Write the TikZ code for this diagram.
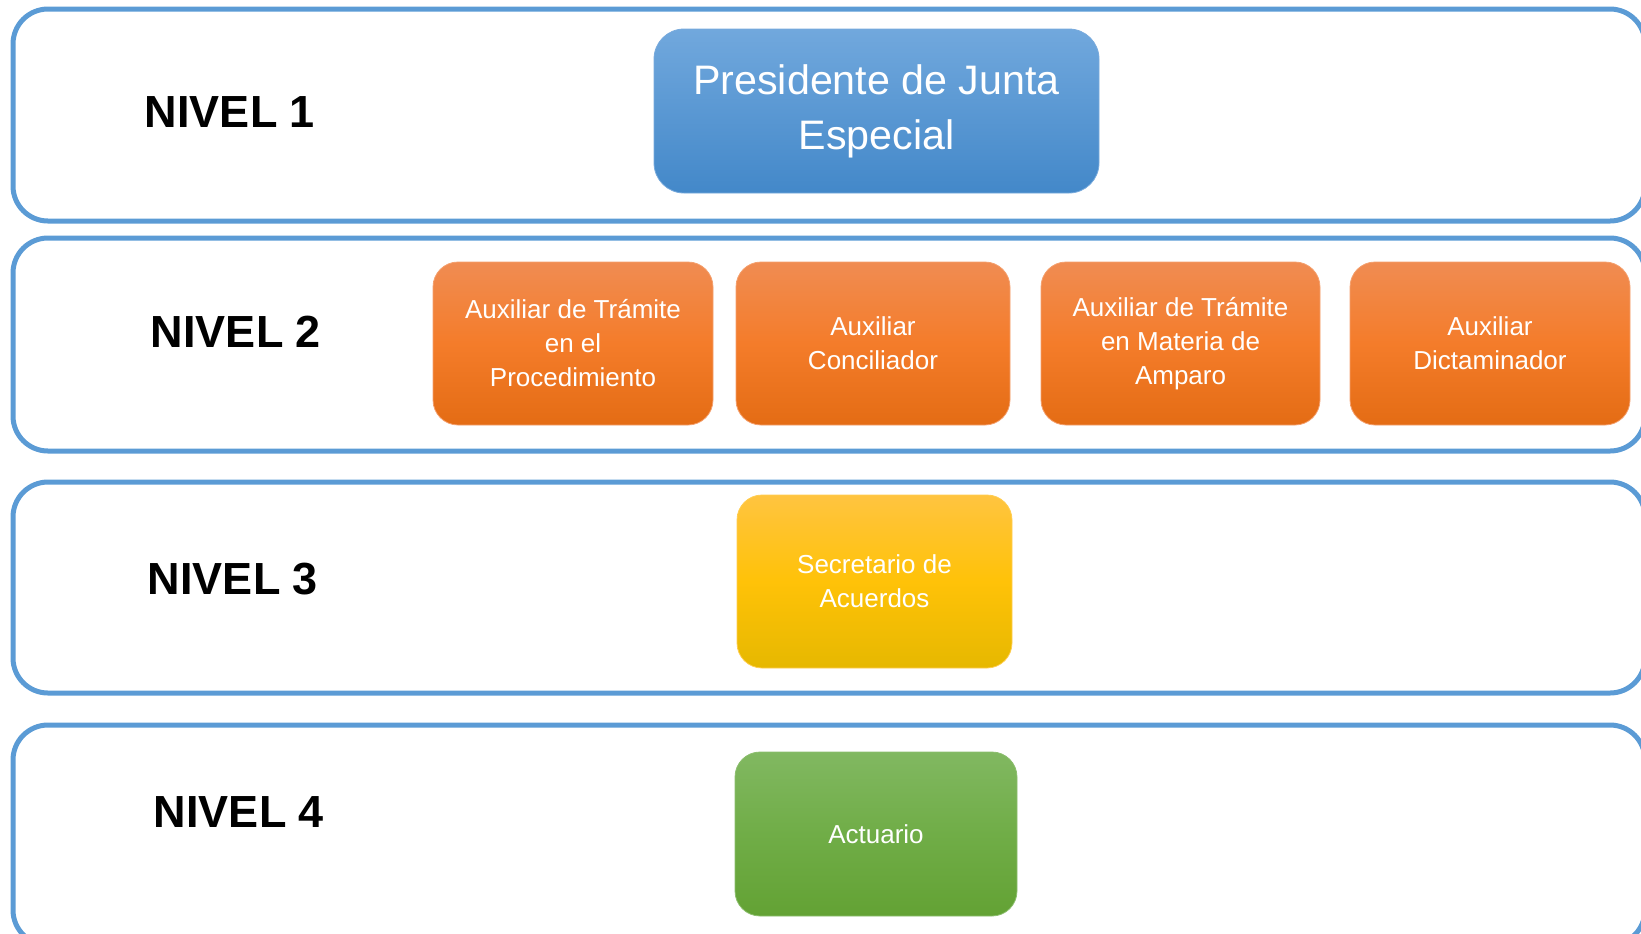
\documentclass[tikz,border=0pt]{standalone}
\usepackage{fontspec}
\setmainfont{Liberation Sans}
\definecolor{bandblue}{RGB}{91,155,213}
\tikzset{
	band/.style={draw=bandblue, line width=2.5pt, rounded corners=17.5pt},
	nivel/.style={font=\bfseries\fontsize{22.5}{27}\selectfont},
	cargo/.style={rounded corners=12.5pt, inner sep=0pt, text=white, align=center,
		minimum width=140pt, minimum height=81.5pt, font=\fontsize{13}{17}\selectfont},
	azul/.style={cargo, draw={rgb,255:red,120;green,170;blue,220}, line width=0.4pt,
		top color={rgb,255:red,113;green,168;blue,221}, bottom color={rgb,255:red,67;green,136;blue,201}},
	naranja/.style={cargo, draw={rgb,255:red,244;green,160;blue,110}, line width=0.4pt,
		top color={rgb,255:red,240;green,140;blue,82}, bottom color={rgb,255:red,228;green,108;blue,20},
		middle color={rgb,255:red,244;green,124;blue,42}},
	amarillo/.style={cargo, draw={rgb,255:red,255;green,205;blue,80}, line width=0.4pt,
		top color={rgb,255:red,255;green,196;blue,64}, bottom color={rgb,255:red,230;green,184;blue,0},
		middle color={rgb,255:red,255;green,194;blue,8}},
	verde/.style={cargo, draw={rgb,255:red,140;green,190;blue,110}, line width=0.4pt,
		top color={rgb,255:red,129;green,184;blue,97}, bottom color={rgb,255:red,99;green,162;blue,52},
		middle color={rgb,255:red,112;green,173;blue,71}}
}
\begin{document}
\begin{tikzpicture}[x=0.5pt, y=-0.5pt]
	\useasboundingbox (0,0) rectangle (1641,933);
	% franjas de nivel
	\draw[band] (13,9) rectangle (1645,221);
	\draw[band] (13,238) rectangle (1645,451);
	\draw[band] (13,482) rectangle (1645,693);
	\draw[band] (13,725) rectangle (1645,945);
	% etiquetas
	\node[nivel] (n1) at (230,112) {NIVEL 1};
	\node[nivel] (n2) at (236,332) {NIVEL 2};
	\node[nivel] (n3) at (233,579) {NIVEL 3};
	\node[nivel] (n4) at (239,812) {NIVEL 4};
	% cargos
	\node[azul, rounded corners=15pt, minimum width=222.5pt, minimum height=82pt,
		font=\fontsize{20.6}{27.5}\selectfont] (presidente) at (876.5,111) {Presidente de Junta\\Especial};
	\node[naranja] (tramite) at (573,343.5) {Auxiliar de Trámite\\en el\\Procedimiento};
	\node[naranja, minimum width=137pt] (conciliador) at (873,343.5) {Auxiliar\\Conciliador};
	\node[naranja, minimum width=139.5pt] (amparo) at (1180.5,343.5) {Auxiliar de Trámite\\en Materia de\\Amparo};
	\node[naranja] (dictaminador) at (1490,343.5) {Auxiliar\\Dictaminador};
	\node[amarillo, minimum width=137.5pt, minimum height=86.5pt] (secretario) at (874.5,581.5) {Secretario de\\Acuerdos};
	\node[verde, minimum width=141pt, minimum height=82pt] (actuario) at (876,834) {Actuario};
\end{tikzpicture}
\end{document}
